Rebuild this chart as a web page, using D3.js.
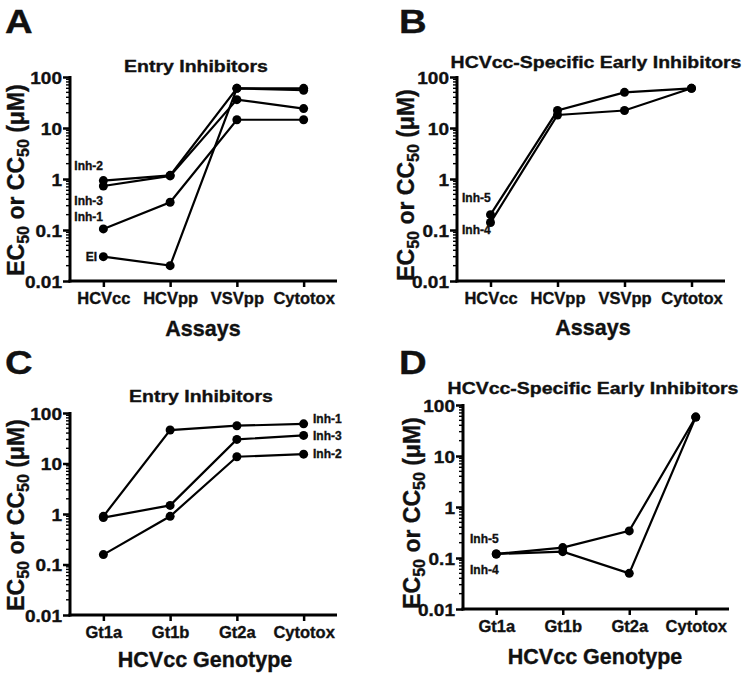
<!DOCTYPE html>
<html><head><meta charset="utf-8">
<script src="https://cdn.jsdelivr.net/npm/d3@7"></script>
<style>body{margin:0;background:#fff}svg{display:block}text{font-family:"Liberation Sans",Arial,sans-serif;font-weight:bold;fill:#111;stroke:#111;stroke-width:0.35px}</style>
</head><body><svg id="c" width="747" height="684"></svg>
<script>
// ---------- data ----------
const assays = ["HCVcc","HCVpp","VSVpp","Cytotox"];
const genotypes = ["Gt1a","Gt1b","Gt2a","Cytotox"];
const yTickValues = [0.01,0.1,1,10,100];
const yTickLabels = ["0.01","0.1","1","10","100"];

// Panel A: Entry inhibitors across assays
const inh2A = [0.93, 1.18, 60, 60];
const inh3A = [0.73, 1.15, 36, 24];
const inh1A = [0.105, 0.35, 14.5, 14.5];
const eiA   = [0.03, 0.02, 60, 55];
// Panel B: HCVcc-specific early inhibitors across assays
const inh5B = [0.2, 22, 50, 60];
const inh4B = [0.14, 18, 22, 60];
// Panel C: Entry inhibitors across genotypes
const inh1C = [0.9, 46, 56, 61];
const inh3C = [0.85, 1.48, 30, 36];
const inh2C = [0.157, 0.9, 13.6, 15.3];
// Panel D: HCVcc-specific early inhibitors across genotypes
const inh5D = [0.12, 0.16, 0.34, 58];
const inh4D = [0.12, 0.133, 0.05, 58];

const panels = [
  {letter:"A", title:"Entry Inhibitors", cats:assays, xlab:"Assays",
   series:[inh2A,inh3A,inh1A,eiA],
   labels:[["Inh-2",103,170,"end"],["Inh-3",103,205,"end"],["Inh-1",103,221,"end"],["EI",97,261,"end"]],
   box:{x0:70,x1:337,yt:77,yb:281}, lx:5, ly:33, tx:196, ty:72, xlx:203, xly:336, ylx:24, yly:180},
  {letter:"B", title:"HCVcc-Specific Early Inhibitors", cats:assays, xlab:"Assays",
   series:[inh5B,inh4B],
   labels:[["Inh-5",462,202,"start"],["Inh-4",462,234,"start"]],
   box:{x0:457,x1:725,yt:77,yb:281}, lx:399, ly:33, tx:596, ty:68, xlx:593, xly:335, ylx:414, yly:185},
  {letter:"C", title:"Entry Inhibitors", cats:genotypes, xlab:"HCVcc Genotype",
   series:[inh1C,inh3C,inh2C],
   labels:[["Inh-1",313,423,"start"],["Inh-3",313,440,"start"],["Inh-2",313,458,"start"]],
   box:{x0:70,x1:337,yt:413,yb:615}, lx:5, ly:374, tx:201, ty:402, xlx:205, xly:667, ylx:24, yly:515},
  {letter:"D", title:"HCVcc-Specific Early Inhibitors", cats:genotypes, xlab:"HCVcc Genotype",
   series:[inh5D,inh4D],
   labels:[["Inh-5",470,543,"start"],["Inh-4",470,574,"start"]],
   box:{x0:463,x1:729,yt:405,yb:609}, lx:399, ly:374, tx:593, ty:394, xlx:595, xly:664, ylx:420, yly:513}
];

const svg = d3.select("#c");

function txt(g, x, y, s, size, sx, anchor){
  return g.append("text")
    .attr("transform", `translate(${x},${y}) scale(${sx},1)`)
    .attr("text-anchor", anchor||"start")
    .attr("font-size", size)
    .text(s);
}

panels.forEach(p => {
  const g = svg.append("g");
  const b = p.box;
  const x = d3.scalePoint().domain(p.cats).range([b.x0, b.x1]).padding(0.5);
  const y = d3.scaleLog().domain([0.01,100]).range([b.yb, b.yt]);

  txt(g, p.lx, p.ly, p.letter, 33, 1.16, "start");
  txt(g, p.tx, p.ty, p.title, 16.5, 1.18, "middle");
  txt(g, p.xlx, p.xly, p.xlab, 21.5, 1.0, "middle");
  const yl = g.append("text")
    .attr("transform", `translate(${p.ylx},${p.yly}) rotate(-90)`)
    .attr("text-anchor","middle").attr("font-size",23);
  yl.append("tspan").text("EC");
  yl.append("tspan").attr("font-size",16).attr("dy",5).text("50");
  yl.append("tspan").attr("dy",-5).text(" or CC");
  yl.append("tspan").attr("font-size",16).attr("dy",5).text("50");
  yl.append("tspan").attr("dy",-5).text(" (\u03BCM)");

  const minors = [];
  [0.01,0.1,1,10].forEach(d => { for(let k=2;k<=9;k++) minors.push(k*d); });
  g.selectAll(".mn").data(minors).enter().append("line")
    .attr("x1", b.x0-4).attr("x2", b.x0).attr("y1", d=>y(d)).attr("y2", d=>y(d))
    .attr("stroke","#000").attr("stroke-width",1.4);
  const ya = d3.axisLeft(y).tickValues(yTickValues).tickFormat((d,i)=>yTickLabels[i]).tickSize(7).tickPadding(3);
  const yg = g.append("g").attr("transform",`translate(${b.x0},0)`).call(ya);
  yg.select(".domain").remove();
  yg.selectAll(".tick line").attr("stroke","#000").attr("stroke-width",2.5);
  yg.selectAll(".tick text").attr("font-size",17).attr("font-family",null).attr("fill","#111")
    .attr("dy","0.36em").attr("x",null)
    .attr("transform","translate(-8,0) scale(1.12,1)");
  g.append("line").attr("x1",b.x0).attr("x2",b.x0).attr("y1",b.yt-1).attr("y2",b.yb+1.5)
    .attr("stroke","#000").attr("stroke-width",3);

  const xa = d3.axisBottom(x).tickSize(6).tickPadding(5);
  const xg = g.append("g").attr("transform",`translate(0,${b.yb})`).call(xa);
  xg.select(".domain").remove();
  xg.selectAll(".tick line").attr("stroke","#000").attr("stroke-width",2.5);
  xg.selectAll(".tick text").attr("font-size",16.5).attr("font-family",null).attr("fill","#111")
    .attr("dy","0.71em");
  g.append("line").attr("x1",b.x0-1.5).attr("x2",b.x1).attr("y1",b.yb).attr("y2",b.yb)
    .attr("stroke","#000").attr("stroke-width",3);

  const line = d3.line().x((d,i)=>x(p.cats[i])).y(d=>y(d));
  p.series.forEach(s => {
    g.append("path").datum(s).attr("d",line).attr("fill","none")
      .attr("stroke","#000").attr("stroke-width",2.2);
    g.selectAll(null).data(s).enter().append("circle")
      .attr("cx",(d,i)=>x(p.cats[i])).attr("cy",d=>y(d)).attr("r",4.5).attr("fill","#000");
  });

  p.labels.forEach(l => txt(g, l[1], l[2], l[0], 12, 1.0, l[3]));
});
</script></body></html>
